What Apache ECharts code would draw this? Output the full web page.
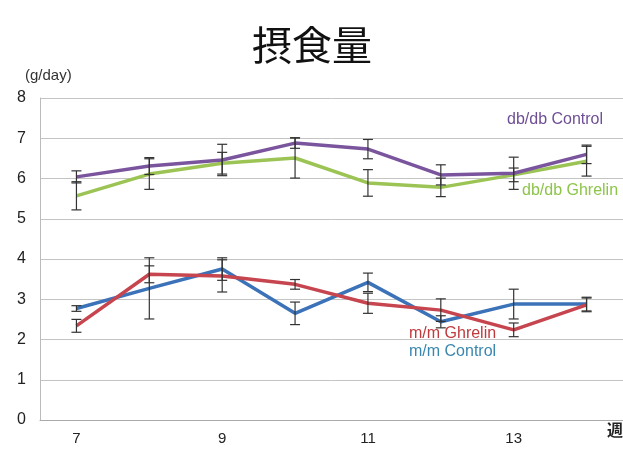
<!DOCTYPE html>
<html>
<head>
<meta charset="utf-8">
<script src="https://cdn.jsdelivr.net/npm/echarts@6/dist/echarts.min.js"></script>
<style>html,body{margin:0;padding:0;background:#fff;}#c{width:623px;height:450px;}</style>
</head>
<body>
<div id="c"></div>
<script>
const weeks = ['7','8','9','10','11','12','13','14'];
const yTicks = [0,1,2,3,4,5,6,7,8];
const dbControl    = [6.04, 6.31, 6.46, 6.88, 6.73, 6.09, 6.13, 6.60];
const dbControlErr = [0.15, 0.21, 0.39, 0.13, 0.24, 0.25, 0.40, 0.23];
const dbGhrelin    = [5.57, 6.11, 6.38, 6.51, 5.89, 5.78, 6.09, 6.43];
const dbGhrelinErr = [0.35, 0.38, 0.27, 0.50, 0.33, 0.23, 0.17, 0.37];
const mmControl    = [2.77, 3.27, 3.75, 2.65, 3.42, 2.44, 2.88, 2.88];
const mmControlErr = [0.07, 0.76, 0.28, 0.28, 0.23, 0.15, 0.37, 0.17];
const mmGhrelin    = [2.34, 3.62, 3.58, 3.37, 2.90, 2.73, 2.24, 2.86];
const mmGhrelinErr = [0.16, 0.21, 0.40, 0.12, 0.25, 0.28, 0.17, 0.17];

const chart = echarts.init(document.getElementById('c'), null, {renderer:'canvas'});

function errData(vals, errs){
  return vals.map((v,i)=>[i, v-errs[i], v+errs[i]]);
}
function errSeries(vals, errs){
  return {
    type:'custom',
    z: 5,
    silent:true,
    data: errData(vals, errs),
    encode:{x:0, y:[1,2]},
    renderItem: function(params, api){
      const x = api.value(0);
      const lo = api.coord([x, api.value(1)]);
      const hi = api.coord([x, api.value(2)]);
      const hw = 5;
      const st = {stroke:'#333', lineWidth:1.2};
      return {type:'group', children:[
        {type:'line', shape:{x1:lo[0],y1:lo[1],x2:hi[0],y2:hi[1]}, style:st},
        {type:'line', shape:{x1:lo[0]-hw,y1:lo[1],x2:lo[0]+hw,y2:lo[1]}, style:st},
        {type:'line', shape:{x1:hi[0]-hw,y1:hi[1],x2:hi[0]+hw,y2:hi[1]}, style:st}
      ]};
    }
  };
}
function lineSeries(name, vals, color){
  return {name:name, type:'line', data:vals, symbol:'none', z:3,
    lineStyle:{color:color, width:3.5}, itemStyle:{color:color}};
}

chart.setOption({
  animation:false,
  backgroundColor:'#fff',
  title:{text:'摂食量', left:307, top:20, textAlign:'center',
    textStyle:{fontFamily:'Noto Sans CJK JP', fontSize:40, fontWeight:'normal', color:'#111'}},
  grid:{left:40, top:98, width:592, height:322},
  xAxis:{type:'category', data:weeks, boundaryGap:true,
    axisLine:{lineStyle:{color:'#aaa'}},
    axisTick:{interval:1, length:5, lineStyle:{color:'#aaa'}},
    axisLabel:{interval:1, color:'#222', fontSize:15, fontFamily:'Liberation Sans', margin:11}},
  yAxis:{type:'value', min:yTicks[0], max:yTicks[yTicks.length-1], interval:1,
    axisLine:{show:true, lineStyle:{color:'#bbb'}},
    axisTick:{show:false},
    splitLine:{lineStyle:{color:'#c4c4c4', width:1}},
    axisLabel:{color:'#222', fontSize:16, fontFamily:'Liberation Sans', margin:14}},
  graphic:[
    {type:'text', left:25, top:68, style:{text:'(g/day)', font:'15px "Liberation Sans"', fill:'#333'}},
    {type:'text', left:507, top:112, style:{text:'db/db Control', font:'16px "Liberation Sans"', fill:'#6E4F95'}},
    {type:'text', left:522, top:183, style:{text:'db/db Ghrelin', font:'16px "Liberation Sans"', fill:'#8DC44A'}},
    {type:'text', left:409, top:326, style:{text:'m/m Ghrelin', font:'16px "Liberation Sans"', fill:'#C0393D'}},
    {type:'text', left:409, top:344, style:{text:'m/m Control', font:'16px "Liberation Sans"', fill:'#3A87AE'}},
    {type:'text', left:607, top:422, style:{text:'週', font:'bold 16px "Noto Sans CJK JP"', fill:'#222'}}
  ],
  series:[
    lineSeries('db/db Ghrelin', dbGhrelin, '#9BC455'),
    lineSeries('db/db Control', dbControl, '#7A559E'),
    lineSeries('m/m Control', mmControl, '#3B72B8'),
    lineSeries('m/m Ghrelin', mmGhrelin, '#C6454E'),
    errSeries(dbGhrelin, dbGhrelinErr),
    errSeries(dbControl, dbControlErr),
    errSeries(mmControl, mmControlErr),
    errSeries(mmGhrelin, mmGhrelinErr)
  ]
});
</script>
</body>
</html>
